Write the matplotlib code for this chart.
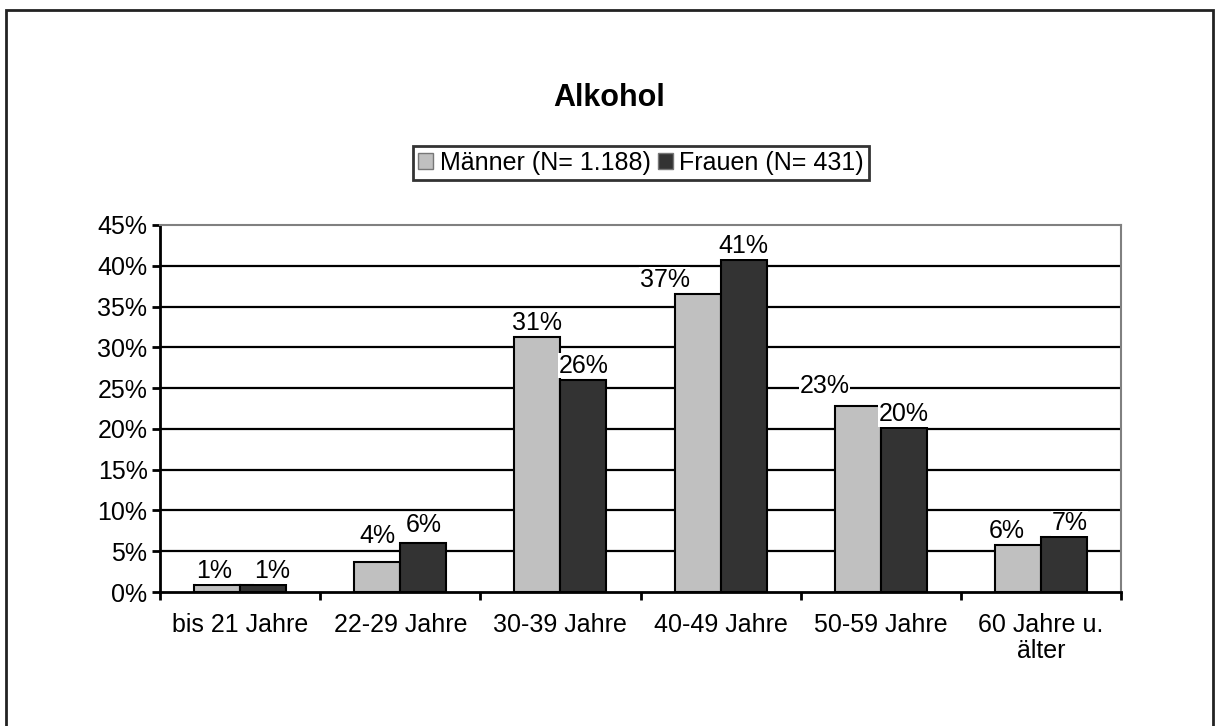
import numpy as np
import matplotlib
matplotlib.use("Agg")
import matplotlib.pyplot as plt
from matplotlib.patches import Rectangle

plt.rcParams['font.family'] = ['Liberation Sans', 'DejaVu Sans']

# data
categories = ["bis 21 Jahre", "22-29 Jahre", "30-39 Jahre", "40-49 Jahre",
              "50-59 Jahre", "60 Jahre u.\nälter"]
maenner = [0.8, 3.7, 31.3, 36.6, 22.8, 5.8]
frauen = [0.8, 6.0, 26.0, 40.7, 20.1, 6.7]
series_names = ["Männer (N= 1.188)", "Frauen (N= 431)"]
title = "Alkohol"

# label nudges in pixels (dx, dy) where the original labels are moved
nudge_m = {0: (-3, 0), 1: (0, 12), 3: (-33, 0), 4: (-33, 6), 5: (-11, 0)}
nudge_f = {0: (9, 0), 1: (0, 4), 5: (6, 0)}

fig = plt.figure(figsize=(12.15, 7.26), dpi=100)
fig.patches.append(Rectangle((6 / 1215, -0.05), 1207 / 1215, 1 - 10 / 726 + 0.05,
                             transform=fig.transFigure, fill=False,
                             edgecolor="#222222", linewidth=2, zorder=0))

ax = fig.add_axes([160 / 1215, 1 - 592 / 726, 961 / 1215, 367 / 726])

x = np.arange(len(categories)) + 0.5
w = 0.2875
b1 = ax.bar(x - w / 2, maenner, w, color="#c0c0c0", edgecolor="black",
            linewidth=1.5, label=series_names[0], zorder=3)
b2 = ax.bar(x + w / 2, frauen, w, color="#333333", edgecolor="black",
            linewidth=1.5, label=series_names[1], zorder=3)


def labels(bars, vals, nudge):
    for i, (r, v) in enumerate(zip(bars, vals)):
        dx, dy = nudge.get(i, (0, 0))
        ax.annotate(f"{round(v)}%", (r.get_x() + r.get_width() / 2, v),
                    xytext=(dx, 2 + dy), textcoords="offset pixels",
                    ha="center", va="bottom", fontsize=18, zorder=5,
                    bbox=dict(facecolor="white", edgecolor="none", pad=0.3))


labels(b1, maenner, nudge_m)
labels(b2, frauen, nudge_f)

ax.set_xlim(0, 6)
ax.set_ylim(0, 45)
ax.set_yticks(np.arange(0, 46, 5))
ax.set_yticklabels([f"{t}%" for t in range(0, 46, 5)], fontsize=18)
for t in range(5, 45, 5):
    ax.axhline(t, color="black", linewidth=1.6, zorder=1)

ax.set_xticks(np.arange(0, 7))
ax.set_xticklabels([])
ax.set_xticks(x, minor=True)
ax.set_xticklabels(categories, minor=True, fontsize=18, linespacing=1.1)
ax.tick_params(axis="x", which="minor", length=0, pad=15)
ax.tick_params(axis="x", which="major", length=6, width=2, direction="out")
ax.tick_params(axis="y", length=6, width=2, direction="out", pad=3)

for s in ("left", "bottom"):
    ax.spines[s].set_linewidth(2)
    ax.spines[s].set_color("black")
for s in ("top", "right"):
    ax.spines[s].set_linewidth(1.5)
    ax.spines[s].set_color("#808080")

fig.text(609 / 1215, 1 - 98 / 726, title, ha="center", va="center",
         fontsize=22, fontweight="bold")

leg = fig.legend(handles=[b1, b2], loc="center", ncol=2,
                 bbox_to_anchor=(641 / 1215, 1 - 163 / 726), fontsize=18,
                 frameon=True, fancybox=False, handlelength=0.6,
                 handleheight=0.6, handletextpad=0.25, columnspacing=0.3,
                 borderpad=0.2, borderaxespad=0)
leg.get_frame().set_edgecolor("black")
leg.get_frame().set_linewidth(2)
for h in leg.legend_handles:
    h.set_edgecolor("#777777")
    h.set_linewidth(1)

fig.savefig("out.png", dpi=100)
